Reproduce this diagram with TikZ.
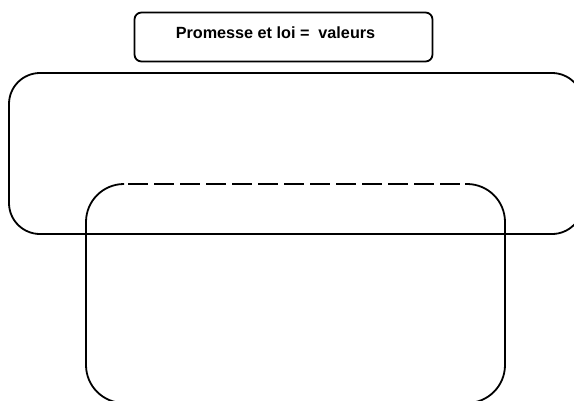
\documentclass[tikz,border=0pt]{standalone}
\usepackage{fontspec}
\newfontfamily\boxfont{Liberation Sans}
\usepackage{tikz}
\tikzset{titlebox/.style={draw, line width=1.8pt, rounded corners=7pt,
  minimum width=298pt, minimum height=49pt, inner sep=0pt, text depth=8pt,
  font=\boxfont\bfseries\fontsize{16.2}{19}\selectfont}}
\tikzset{frame/.style={line width=1.8pt, rounded corners=#1}}
\tikzset{dashtop/.style={line width=1.8pt, dash pattern=on 20pt off 6pt, dash phase=21pt}}

\begin{document}
\begin{tikzpicture}[x=1pt, y=-1pt]

\useasboundingbox (0,0) rectangle (574,400);
\clip (0,0) rectangle (574,400);

\node [titlebox] (title) at (283.5,37) {Promesse et loi =\ \ valeurs\hspace*{16pt}};

\draw [frame=31pt] (9,73) rectangle (583,234);

\coordinate (lowTL) at (123,184);
\coordinate (lowTR) at (465,184);
\draw [frame=38pt] (lowTL) -- (86,184) -- (86,403) -- (505,403) -- (505,184) -- (lowTR);
\draw [dashtop] (lowTL) -- (lowTR);

\end{tikzpicture}
\end{document}
